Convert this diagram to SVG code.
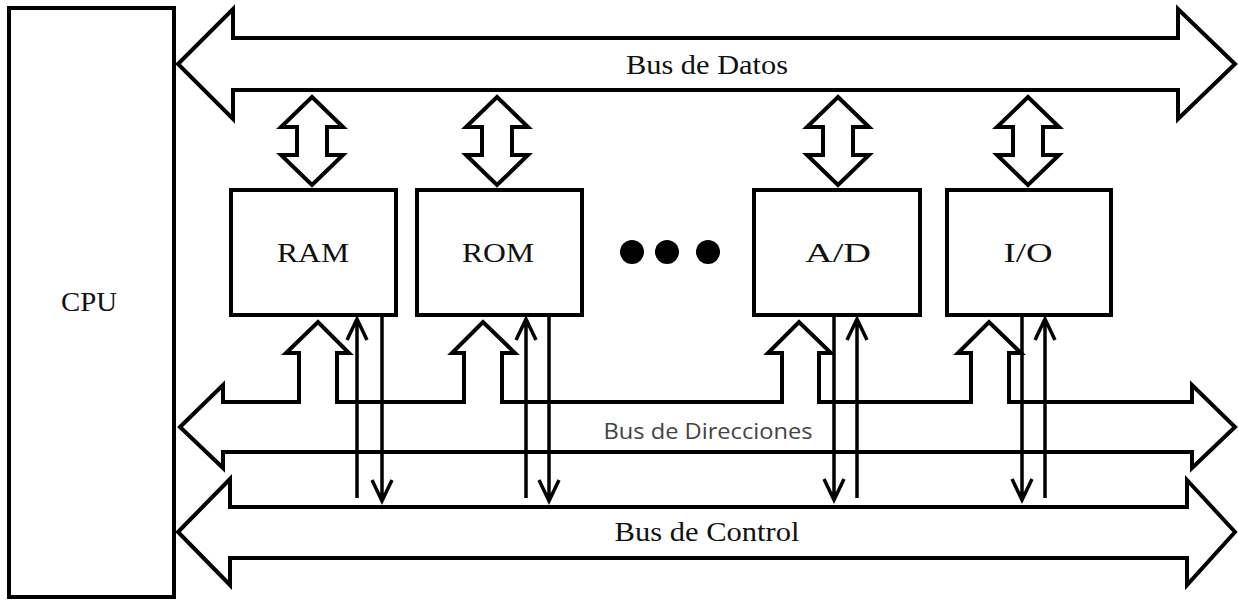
<svg xmlns="http://www.w3.org/2000/svg" width="1238" height="602" viewBox="0 0 1238 602">
  <style>
    .shape { fill: #fff; stroke: #000; stroke-width: 4; stroke-linejoin: miter; }
    .wire { fill: none; stroke: #000; stroke-width: 3.5; }
    .label { font-family: "Liberation Serif", "Times New Roman", serif; font-size: 28px; fill: #111; text-anchor: middle; }
    .sans { font-family: "Open Sans", "Noto Sans", "DejaVu Sans", sans-serif; font-size: 21px; fill: #444; text-anchor: middle; }
  </style>
  <defs>
    <!-- two-headed block arrow linking a module to the data bus -->
    <polygon id="dbl" class="shape" points="0,97 31,127 15,127 15,155 31,155 0,185 -31,155 -15,155 -15,127 -31,127"/>
  </defs>

  <g id="cpu">
    <rect class="shape" x="9" y="8" width="165" height="589"/>
    <text class="label" x="89" y="311" textLength="56" lengthAdjust="spacingAndGlyphs">CPU</text>
  </g>

  <g id="connectors">
    <!-- data bus -->
    <g id="bus-datos">
      <polygon class="shape" points="178,64 233,9 233,38 1178,38 1178,9 1235,64 1178,119 1178,90 233,90 233,119"/>
      <text class="label" x="707" y="74" textLength="162" lengthAdjust="spacingAndGlyphs">Bus de Datos</text>
    </g>
    <!-- address bus with taps into each module -->
    <g id="bus-direcciones">
      <polygon class="shape" points="180,427 223,385 223,402 299,402 299,353 286,353 318,322 349,353 337,353 337,402 464,402 464,353 452,353 483,322 515,353 502,353 502,402 782,402 782,353 768,353 799,322 831,353 819,353 819,402 971,402 971,353 958,353 989,322 1021,353 1009,353 1009,402 1192,402 1192,385 1235,427 1192,468 1192,452 223,452 223,468"/>
      <text class="sans" x="708" y="439" textLength="209" lengthAdjust="spacingAndGlyphs">Bus de Direcciones</text>
    </g>
    <!-- control bus -->
    <g id="bus-control">
      <polygon class="shape" points="178,532 230,479 230,507 1187,507 1187,480 1235,532 1187,585 1187,558 230,558 230,585"/>
      <text class="label" x="707" y="541" textLength="185" lengthAdjust="spacingAndGlyphs">Bus de Control</text>
    </g>
    <!-- data bus taps -->
    <use href="#dbl" x="312"/>
    <use href="#dbl" x="497"/>
    <use href="#dbl" x="838"/>
    <use href="#dbl" x="1028"/>
  </g>

  <g id="ram">
    <rect class="shape" x="231" y="190" width="165" height="125"/>
    <text class="label" x="313" y="262" textLength="72" lengthAdjust="spacingAndGlyphs">RAM</text>
  </g>
  <g id="rom">
    <rect class="shape" x="417" y="190" width="165" height="125"/>
    <text class="label" x="498" y="262" textLength="72" lengthAdjust="spacingAndGlyphs">ROM</text>
  </g>
  <g id="dots">
    <circle cx="632" cy="252" r="12" fill="#000"/>
    <circle cx="667" cy="252" r="12" fill="#000"/>
    <circle cx="708" cy="252" r="12" fill="#000"/>
  </g>
  <g id="ad">
    <rect class="shape" x="754" y="190" width="166" height="125"/>
    <text class="label" x="838" y="262" textLength="66" lengthAdjust="spacingAndGlyphs">A/D</text>
  </g>
  <g id="io">
    <rect class="shape" x="947" y="190" width="164" height="125"/>
    <text class="label" x="1028" y="262" textLength="49" lengthAdjust="spacingAndGlyphs">I/O</text>
  </g>

  <!-- control lines between modules and the control bus -->
  <g id="control-lines" class="wire">
    <path d="M357,498 V319 M347,340 L357,319 L367,340"/>
    <path d="M382,317 V501 M372,480 L382,501 L392,480"/>
    <path d="M526,498 V319 M516,340 L526,319 L536,340"/>
    <path d="M549,317 V501 M539,480 L549,501 L559,480"/>
    <path d="M834,317 V500 M824,479 L834,500 L844,479"/>
    <path d="M857,498 V319 M847,340 L857,319 L867,340"/>
    <path d="M1022,317 V500 M1012,479 L1022,500 L1032,479"/>
    <path d="M1045,498 V319 M1035,340 L1045,319 L1055,340"/>
  </g>
</svg>
